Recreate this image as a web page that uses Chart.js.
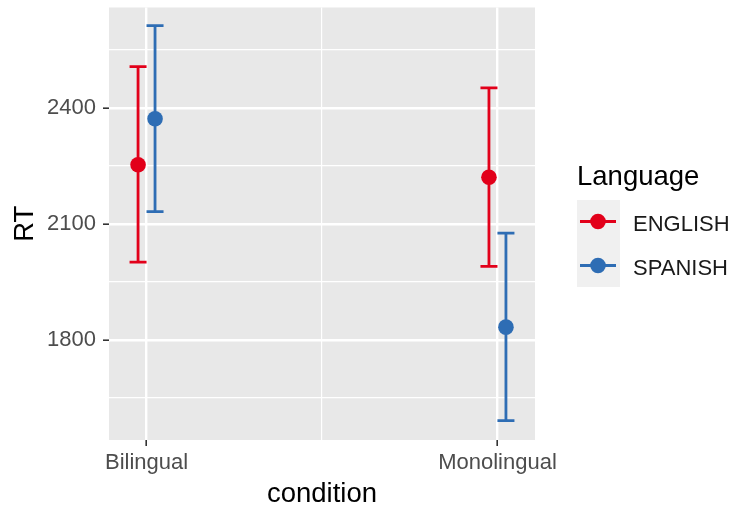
<!DOCTYPE html>
<html>
<head>
<meta charset="utf-8">
<script src="https://cdn.jsdelivr.net/npm/chart.js@4/dist/chart.umd.min.js"></script>
<style>
    body { margin: 0; background: #fff; }
</style>
</head>
<body>
<canvas id="rtChart" width="736" height="509"></canvas>
<script>
// Data
const conditions = ['Bilingual', 'Monolingual'];
const languages = ['ENGLISH', 'SPANISH'];
const englishMean = [2253, 2221];
const englishLow = [2001, 1990];
const englishHigh = [2507, 2452];
const spanishMean = [2372, 1833];
const spanishLow = [2132, 1591];
const spanishHigh = [2613, 2076];
const yLabelTicks = [1800, 2100, 2400];
const yMinorTicks = [1650, 1950, 2250, 2550];

const colors = { ENGLISH: 'rgb(226, 0, 26)', SPANISH: 'rgb(46, 109, 180)' };
const dodge = 0.0242;
const fontFamily = '"Liberation Sans", Arial, sans-serif';

function buildSeries(lang, means, lows, highs, offset) {
    const sets = [];
    conditions.forEach((c, i) => {
        const x = i + 1 + offset;
        // error bar: vertical segment, caps drawn as 'line' point style
        sets.push({
            label: lang + ' ' + c,
            data: [{ x: x, y: lows[i] }, { x: x, y: highs[i] }],
            showLine: true,
            borderColor: colors[lang],
            borderWidth: 2.8,
            pointStyle: 'line',
            pointRadius: 8.5,
            pointBorderColor: colors[lang],
            pointBorderWidth: 2.8,
            order: 2
        });
    });
    sets.push({
        label: lang,
        data: means.map((m, i) => ({ x: i + 1 + offset, y: m })),
        showLine: false,
        pointStyle: 'circle',
        pointRadius: 7.8,
        pointBackgroundColor: colors[lang],
        pointBorderWidth: 0,
        order: 1
    });
    return sets;
}

const datasets = []
    .concat(buildSeries('ENGLISH', englishMean, englishLow, englishHigh, -dodge))
    .concat(buildSeries('SPANISH', spanishMean, spanishLow, spanishHigh, dodge));

const panelBg = {
    id: 'panelBg',
    beforeDraw(chart) {
        const a = chart.chartArea;
        const ctx = chart.ctx;
        ctx.save();
        ctx.fillStyle = '#E8E8E8';
        ctx.fillRect(a.left, a.top, a.right - a.left, a.bottom - a.top);
        ctx.restore();
    }
};

// ggplot-like legend on the right
const sideLegend = {
    id: 'sideLegend',
    afterDraw(chart) {
        const ctx = chart.ctx;
        const left = chart.chartArea.right + 42;
        ctx.save();
        ctx.fillStyle = '#000';
        ctx.font = '27.5px ' + fontFamily;
        ctx.textBaseline = 'alphabetic';
        ctx.fillText('Language', left, 185);
        ctx.fillStyle = '#F0F0F0';
        ctx.fillRect(left, 200, 43, 87);
        languages.forEach((lang, i) => {
            const cy = 221.5 + i * 44;
            ctx.strokeStyle = colors[lang];
            ctx.lineWidth = 2.8;
            ctx.beginPath();
            ctx.moveTo(left + 3, cy);
            ctx.lineTo(left + 39, cy);
            ctx.stroke();
            ctx.fillStyle = colors[lang];
            ctx.beginPath();
            ctx.arc(left + 21, cy, 7.8, 0, Math.PI * 2);
            ctx.fill();
            ctx.fillStyle = '#1A1A1A';
            ctx.font = '22px ' + fontFamily;
            ctx.fillText(lang, left + 56, cy + 9.5);
        });
        ctx.restore();
    }
};

const tickFont = { family: fontFamily, size: 22 };
const titleFont = { family: fontFamily, size: 27.5 };

new Chart(document.getElementById('rtChart'), {
    type: 'scatter',
    data: { datasets: datasets },
    options: {
        responsive: false,
        animation: false,
        layout: { autoPadding: false, padding: { left: 0, top: 7.5, right: 201, bottom: 0 } },
        plugins: { legend: { display: false }, tooltip: { enabled: false } },
        scales: {
            x: {
                type: 'linear',
                min: 0.893,
                max: 2.107,
                afterBuildTicks(scale) {
                    scale.ticks = [{ value: 1 }, { value: 1.5 }, { value: 2 }];
                },
                afterFit(scale) {
                    scale.height = 69;
                    scale.paddingLeft = 0;
                    scale.paddingRight = 0;
                },
                border: { display: false },
                grid: {
                    color: '#FFFFFF',
                    lineWidth: ctx => (ctx.tick && ctx.tick.value === 1.5 ? 1.2 : 2.4),
                    tickLength: 6,
                    tickWidth: 1.6,
                    tickColor: ctx => (ctx.tick && ctx.tick.value === 1.5 ? 'rgba(0,0,0,0)' : '#333333')
                },
                ticks: {
                    autoSkip: false,
                    maxRotation: 0,
                    padding: 4,
                    color: '#4D4D4D',
                    font: tickFont,
                    callback: v => (Number.isInteger(v) ? conditions[v - 1] : '')
                },
                title: { display: true, text: 'condition', color: '#000', font: titleFont, padding: { top: 0, bottom: -2 } }
            },
            y: {
                min: 1541,
                max: 2660,
                afterBuildTicks(scale) {
                    scale.ticks = yLabelTicks.concat(yMinorTicks).sort((a, b) => a - b).map(v => ({ value: v }));
                },
                afterFit(scale) {
                    scale.width = 109;
                    scale.paddingTop = 0;
                    scale.paddingBottom = 0;
                },
                border: { display: false },
                grid: {
                    color: '#FFFFFF',
                    lineWidth: ctx => (ctx.tick && yLabelTicks.includes(ctx.tick.value) ? 2.4 : 1.2),
                    tickLength: 6,
                    tickWidth: 1.6,
                    tickColor: ctx => (ctx.tick && yLabelTicks.includes(ctx.tick.value) ? '#333333' : 'rgba(0,0,0,0)')
                },
                ticks: {
                    autoSkip: false,
                    padding: 7,
                    color: '#4D4D4D',
                    font: tickFont,
                    callback: v => (yLabelTicks.includes(v) ? String(v) : '')
                },
                title: { display: true, text: 'RT', color: '#000', font: titleFont, padding: { top: 9, bottom: 0 } }
            }
        }
    },
    plugins: [panelBg, sideLegend]
});
</script>
</body>
</html>
